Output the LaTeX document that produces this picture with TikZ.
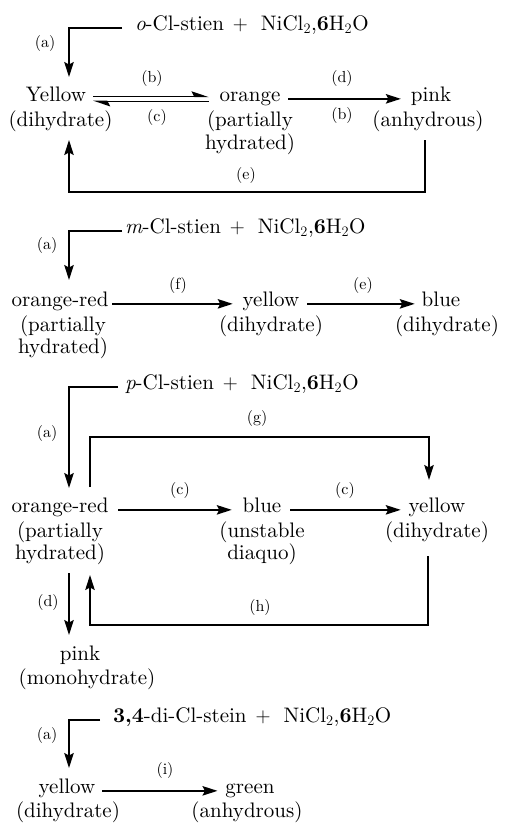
\documentclass[tikz,border=0pt]{standalone}
\usepackage{fontspec}
\setmainfont{lmroman10-regular.otf}[BoldFont=lmroman10-bold.otf, ItalicFont=lmroman10-italic.otf]
\usetikzlibrary{arrows.meta}
\newcommand{\plusgap}{\hspace{2pt} $+$ \hspace{6pt}}
\begin{document}
\begin{tikzpicture}[x=1pt,y=-1pt,
  every node/.style={inner sep=0pt, outer sep=0pt},
  word/.style={font=\fontsize{21}{25}\selectfont, anchor=base},
  formula/.style={font=\fontsize{21}{25}\selectfont, anchor=base west},
  lab/.style={font=\fontsize{16}{18}\selectfont},
  ln/.style={line width=1.4pt},
  arr/.style={ln, -{Stealth[length=15pt,width=9.5pt,inset=2.5pt]}},
  harp/.style={ln, -{Stealth[left,length=15pt,width=10pt,inset=2.5pt]}}]
\useasboundingbox (0,0) rectangle (506,823);

% ---------- Section 1 ----------
\node[formula] (f1) at (135,30) {\textit{o}-Cl-stien\plusgap NiCl$_2$,\textbf{6}H$_2$O};
\coordinate (a1) at (69,77);
\draw[arr] ([xshift=-13pt]f1.mid west) -| (a1);
\node[lab] (la1) at (45,43) {(a)};
\node[word] (Y) at (56,101) {Yellow};
\node[word] (Yd) at (60.5,126) {(dihydrate)};
\node[word] (O) at (250,101) {orange};
\node[word] (Op) at (250,126) {(partially};
\node[word] (Oh) at (250,149) {hydrated)};
\node[word] (P) at (431,101) {pink};
\node[word] (Pa) at (428,126) {(anhydrous)};
\draw[harp] ([xshift=7pt,yshift=2.5pt]Y.mid east) -- ([xshift=-11pt,yshift=2.5pt]O.mid west);
\draw[harp] ([xshift=-11pt,yshift=-2.5pt]O.mid west) -- ([xshift=7pt,yshift=-2.5pt]Y.mid east);
\node[lab] (lb1) at (152,78) {(b)};
\node[lab] (lc1) at (157,117) {(c)};
\draw[arr] ([xshift=8pt]O.mid east) -- ([xshift=-10pt]P.mid west);
\node[lab] (ld1) at (342,78) {(d)};
\node[lab] (lb2) at (342,115) {(b)};
\coordinate (e1s) at (425,140);
\coordinate (e1c) at (69,192);
\coordinate (e1t) at (69,140);
\draw[arr] (e1s) |- (e1c) -- (e1t);
\node[lab] (le1) at (246,175) {(e)};

% ---------- Section 2 ----------
\node[formula] (f2) at (125,233) {\textit{m}-Cl-stien\plusgap NiCl$_2$,\textbf{6}H$_2$O};
\coordinate (a2) at (69,280);
\draw[arr] ([xshift=-3pt]f2.mid west) -| (a2);
\node[lab] (la2) at (47,245) {(a)};
\node[word] (R2) at (60,306) {orange-red};
\node[word] (R2p) at (63,331) {(partially};
\node[word] (R2h) at (63,353) {hydrated)};
\node[word] (Y2) at (271,306) {yellow};
\node[word] (Y2d) at (271,331) {(dihydrate)};
\node[word] (B2) at (441,306) {blue};
\node[word] (B2d) at (447,331) {(dihydrate)};
\draw[arr] ([xshift=4pt]R2.mid east) -- ([xshift=-10pt]Y2.mid west);
\node[lab] (lf2) at (178,285) {(f)};
\draw[arr] ([xshift=8pt]Y2.mid east) -- ([xshift=-7pt]B2.mid west);
\node[lab] (le2) at (363,285) {(e)};

% ---------- Section 3 ----------
\node[formula] (f3) at (125,389) {\textit{p}-Cl-stien\plusgap NiCl$_2$,\textbf{6}H$_2$O};
\coordinate (a3) at (69,488);
\draw[arr] ([xshift=-7pt]f3.mid west) -| (a3);
\node[lab] (la3) at (47,433) {(a)};
\node[word] (R3) at (60,512) {orange-red};
\node[word] (R3p) at (60,537) {(partially};
\node[word] (R3h) at (60,559) {hydrated)};
\node[word] (B3) at (262,512) {blue};
\node[word] (B3u) at (262,537) {(unstable};
\node[word] (B3d) at (262,559) {diaquo)};
\node[word] (Y3) at (437,512) {yellow};
\node[word] (Y3d) at (437,537) {(dihydrate)};
\draw[arr] ([xshift=10pt]R3.mid east) -- ([xshift=-11pt]B3.mid west);
\node[lab] (lc3) at (180,490) {(c)};
\draw[arr] ([xshift=9pt]B3.mid east) -- ([xshift=-8pt]Y3.mid west);
\node[lab] (lc4) at (345,490) {(c)};
\coordinate (g1) at (90,487);
\coordinate (g2) at (429,437);
\coordinate (g3) at (429,480);
\draw[arr] (g1) |- (g2) -- (g3);
\node[lab] (lg3) at (257,418) {(g)};
\coordinate (h1) at (428,556);
\coordinate (h2) at (90,625);
\coordinate (h3) at (90,575);
\draw[arr] (h1) |- (h2) -- (h3);
\node[lab] (lh3) at (260,607) {(h)};
\coordinate (d1) at (69,573);
\coordinate (d2) at (69,635);
\draw[arr] (d1) -- (d2);
\node[lab] (ld3) at (48,602) {(d)};
\node[word] (Pk) at (80,660) {pink};
\node[word] (Pkm) at (87,684) {(monohydrate)};

% ---------- Section 4 ----------
\node[formula] (f4) at (113,722) {\textbf{3,4}-di-Cl-stein\plusgap NiCl$_2$,\textbf{6}H$_2$O};
\coordinate (a4) at (69,768);
\draw[arr] ([xshift=-13pt]f4.mid west) -| (a4);
\node[lab] (la4) at (47,735) {(a)};
\node[word] (Y4) at (67,793) {yellow};
\node[word] (Y4d) at (68,817) {(dihydrate)};
\node[word] (G4) at (250,793) {green};
\node[word] (G4a) at (247,817) {(anhydrous)};
\draw[arr] ([xshift=7pt]Y4.mid east) -- ([xshift=-8pt]G4.mid west);
\node[lab] (li4) at (165,770) {(i)};
\end{tikzpicture}
\end{document}
